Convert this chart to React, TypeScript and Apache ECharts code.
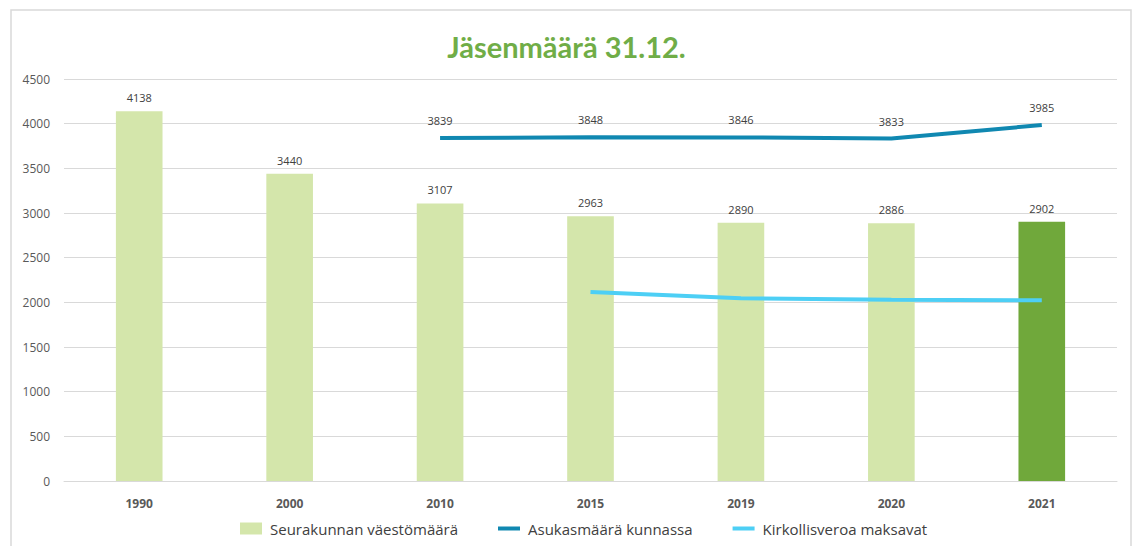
import React, { useEffect, useRef } from "react";
import * as echarts from "echarts";

const categories = ["1990", "2000", "2010", "2015", "2019", "2020", "2021"];
const seurakunta = [4138, 3440, 3107, 2963, 2890, 2886, 2902];
const asukasmaara = [null, null, 3839, 3848, 3846, 3833, 3985];
const kirkollisvero = [null, null, null, 2116, 2045, 2030, 2022];

const FONT = "'Open Sans', 'Noto Sans', sans-serif";
const LINE_ICON = "path://M0,0L22,0L22,4L0,4Z";

export default function App() {
  const ref = useRef<HTMLDivElement>(null);
  useEffect(() => {
    if (!ref.current) return;
    const chart = echarts.init(ref.current, null, { renderer: "svg" });
    chart.setOption({
      animation: false,
      backgroundColor: "#ffffff",
      textStyle: { fontFamily: FONT },
      title: {
        text: "Jäsenmäärä 31.12.",
        left: "center",
        top: 27,
        textStyle: { color: "#70ad47", fontSize: 29, fontWeight: "bold", fontFamily: "Lato, 'Open Sans', sans-serif" },
      },
      graphic: [
        {
          type: "rect",
          shape: { x: 11, y: 10, width: 1120, height: 560 },
          style: { fill: "none", stroke: "#d9d9d9", lineWidth: 1.5 },
          silent: true,
        },
      ],
      legend: {
        bottom: 5,
        left: 235,
        itemGap: 40,
        itemWidth: 22,
        itemHeight: 12,
        textStyle: { color: "#404040", fontSize: 15, fontFamily: FONT, padding: [0, 0, 0, 3] },
        data: [
          { name: "Seurakunnan väestömäärä", icon: "rect" },
          { name: "Asukasmäärä kunnassa", icon: LINE_ICON },
          { name: "Kirkollisveroa maksavat", icon: LINE_ICON },
        ],
      },
      grid: { left: 64, right: 16, top: 79, bottom: 65, containLabel: false },
      xAxis: {
        type: "category",
        data: categories,
        axisLine: { lineStyle: { color: "#d9d9d9", width: 1 } },
        axisTick: { show: false },
        axisLabel: { color: "#595959", fontSize: 12, fontWeight: "bold", margin: 16 },
      },
      yAxis: {
        type: "value",
        min: 0,
        max: 4500,
        interval: 500,
        axisLine: { show: false },
        axisTick: { show: false },
        axisLabel: { color: "#595959", fontSize: 12, margin: 14, formatter: (v: number) => String(v) },
        splitLine: { lineStyle: { color: "#d9d9d9", width: 1 } },
      },
      series: [
        {
          name: "Seurakunnan väestömäärä",
          type: "bar",
          data: seurakunta.map((v, i) =>
            i === seurakunta.length - 1 ? { value: v, itemStyle: { color: "#70a83b" } } : v
          ),
          barWidth: "31%",
          itemStyle: { color: "#d4e6ab" },
          label: { show: true, position: "top", distance: 8, color: "#404040", fontSize: 11, fontFamily: FONT },
        },
        {
          name: "Asukasmäärä kunnassa",
          type: "line",
          data: asukasmaara,
          symbol: "circle",
          symbolSize: 0.01,
          showSymbol: true,
          lineStyle: { color: "#1088b1", width: 4 },
          itemStyle: { color: "#1088b1" },
          label: { show: true, position: "top", distance: 12, color: "#404040", fontSize: 11, fontFamily: FONT },
          z: 3,
        },
        {
          name: "Kirkollisveroa maksavat",
          type: "line",
          data: kirkollisvero,
          symbol: "none",
          lineStyle: { color: "#4dcff5", width: 4 },
          itemStyle: { color: "#4dcff5" },
          z: 3,
        },
      ],
    });
    return () => chart.dispose();
  }, []);
  return (
    <div
      ref={ref}
      style={{ position: "absolute", left: 0, top: 0, width: 1133, height: 546 }}
    />
  );
}
